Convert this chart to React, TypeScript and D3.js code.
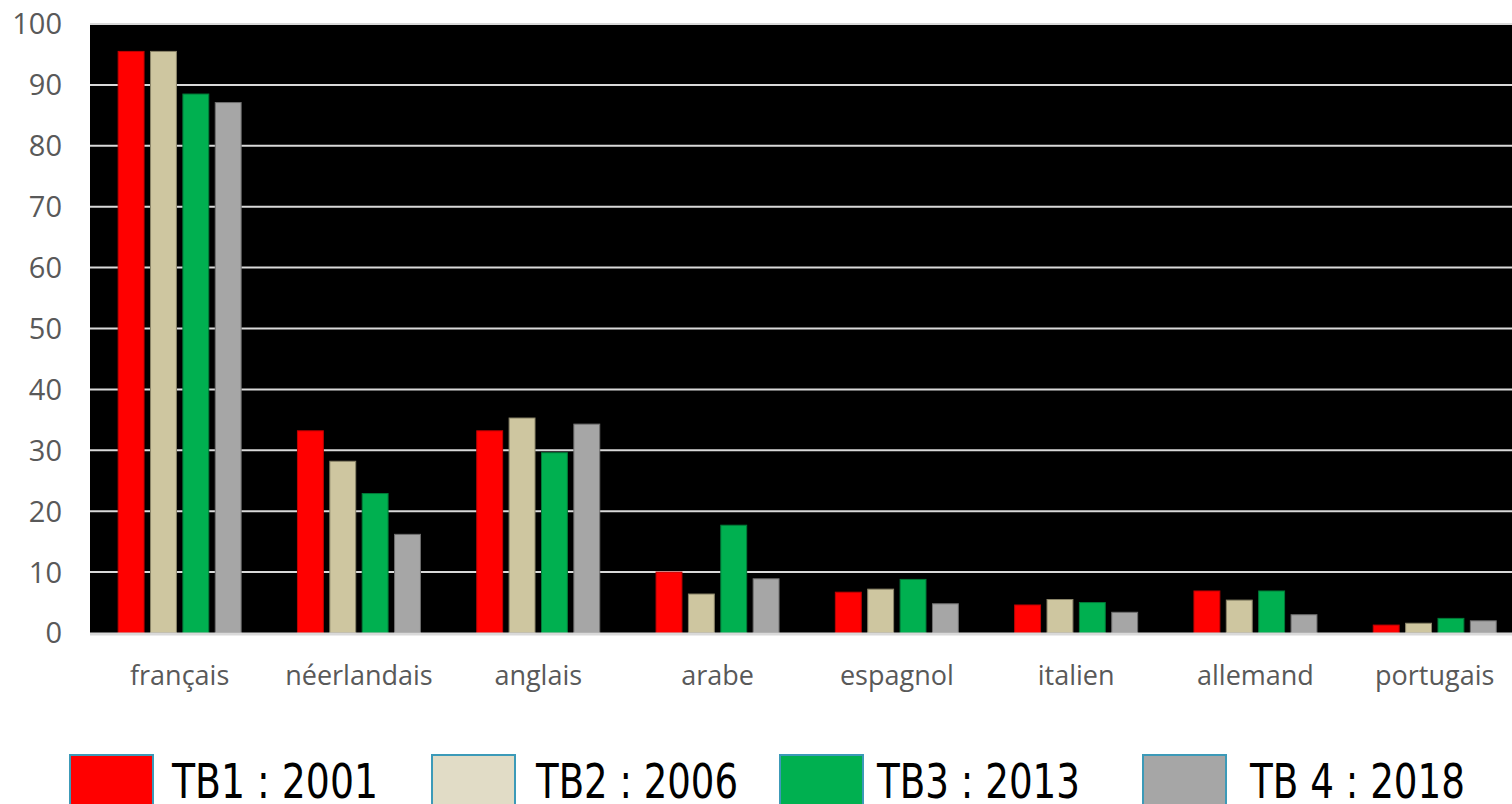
import * as d3 from 'd3'

const categories = ['français', 'néerlandais', 'anglais', 'arabe', 'espagnol', 'italien', 'allemand', 'portugais']
const seriesNames = ['TB1 : 2001', 'TB2 : 2006', 'TB3 : 2013', 'TB 4 : 2018']
const tb1 = [95.5, 33.2, 33.2, 10.0, 6.7, 4.6, 6.9, 1.3]
const tb2 = [95.5, 28.2, 35.3, 6.4, 7.2, 5.5, 5.4, 1.6]
const tb3 = [88.5, 22.9, 29.6, 17.7, 8.8, 5.0, 6.9, 2.4]
const tb4 = [87.1, 16.2, 34.3, 8.9, 4.8, 3.4, 3.0, 2.0]
const yTicks = [0, 10, 20, 30, 40, 50, 60, 70, 80, 90, 100]

const barColors = ['#ff0000', '#cec6a0', '#00b050', '#a6a6a6']
const barStrokes = ['#c00000', '#8a8468', '#007a38', '#6e6e6e']
const legendFill = ['#ff0000', '#e1dcc6', '#00b050', '#a6a6a6']

const W = 1512
const H = 804
const plot = { left: 90, top: 24, bottom: 633 }
const step = 179.3

export default function App() {
  const values = [tb1, tb2, tb3, tb4]
  const x0 = d3
    .scaleBand<string>()
    .domain(categories)
    .range([plot.left, plot.left + step * categories.length])
    .paddingInner(0.314)
    .paddingOuter(0.157)
  const x1 = d3.scaleBand<number>().domain([0, 1, 2, 3]).range([0, x0.bandwidth()]).paddingInner(0.2)
  const y = d3.scaleLinear().domain([0, 100]).range([plot.bottom, plot.top])

  // legend layout
  const legendX = [70, 432, 780, 1143]
  const legendTextX = [172, 536, 877, 1250]
  const legendTextW = [206, 202, 203, 215]

  const axisFont = "'Open Sans', sans-serif"
  const legendFont = "'Liberation Sans Narrow', 'DejaVu Sans Condensed', sans-serif"

  return (
    <svg width={W} height={H} style={{ position: 'absolute', left: 0, top: 0 }}>
      <rect x={0} y={0} width={W} height={H} fill="#fff" />
      <rect x={plot.left} y={plot.top} width={W - plot.left} height={plot.bottom - plot.top} fill="#000" />
      {yTicks.map((t) => (
        <g key={t}>
          {t > 0 && (
            <line x1={plot.left} x2={W} y1={y(t)} y2={y(t)} stroke="#d9d9d9" strokeWidth={2} />
          )}
          <text x={62} y={y(t)} dy="0.36em" textAnchor="end" fontSize={29} fontFamily={axisFont} fill="#595959">
            {t}
          </text>
        </g>
      ))}
      {categories.map((c, i) => (
        <g key={c} transform={`translate(${x0(c)},0)`}>
          {values.map((vals, s) => (
            <rect
              key={s}
              x={x1(s)}
              y={y(vals[i])}
              width={x1.bandwidth()}
              height={y(0) - y(vals[i])}
              fill={barColors[s]}
              stroke={barStrokes[s]}
              strokeWidth={1}
            />
          ))}
          <text x={x0.bandwidth() / 2} y={685} textAnchor="middle" fontSize={27} fontFamily={axisFont} fill="#595959">
            {c}
          </text>
        </g>
      ))}
      <line x1={plot.left} x2={W} y1={plot.bottom + 1} y2={plot.bottom + 1} stroke="#d9d9d9" strokeWidth={3} />
      {seriesNames.map((n, i) => (
        <g key={n}>
          <rect x={legendX[i]} y={755} width={83} height={52} fill={legendFill[i]} stroke="#3c9ab8" strokeWidth={2} />
          <text
            x={legendTextX[i]}
            y={798}
            fontSize={48}
            fontFamily={legendFont}
            fill="#000"
            textLength={legendTextW[i]}
            lengthAdjust="spacingAndGlyphs"
          >
            {n}
          </text>
        </g>
      ))}
    </svg>
  )
}
